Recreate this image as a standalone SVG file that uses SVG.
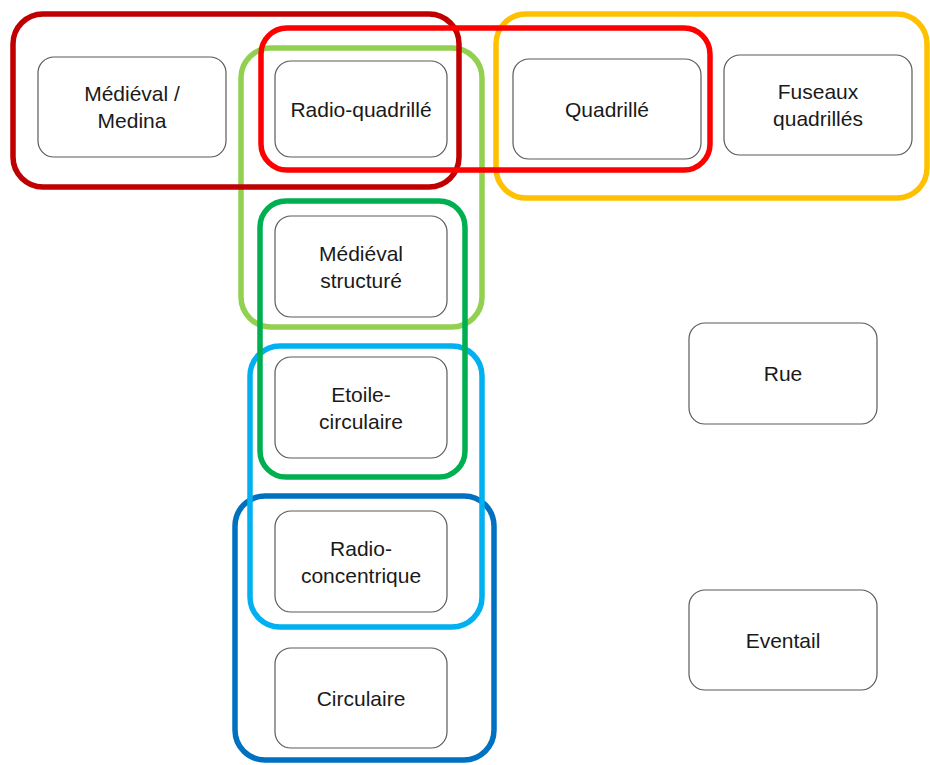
<svg xmlns="http://www.w3.org/2000/svg" width="930" height="765" viewBox="0 0 930 765">
<style>
.node rect{fill:#fff;stroke:#5a5a5a;stroke-width:1.2}
.node text{font-family:"Liberation Sans",Arial,sans-serif;font-size:21px;fill:#1a1a1a;text-anchor:middle}
.grp{fill:none;stroke-width:5.5}
</style>
<rect width="930" height="765" fill="#fff"/>
<g id="nodes">
<g id="n-medieval-medina" class="node"><rect x="38" y="57" width="188" height="100" rx="16"/><text x="132" y="101">Médiéval /</text><text x="132" y="128">Medina</text></g>
<g id="n-radio-quadrille" class="node"><rect x="275" y="61" width="172" height="96" rx="16"/><text x="361" y="116.5">Radio-quadrillé</text></g>
<g id="n-quadrille" class="node"><rect x="513" y="59" width="188" height="100" rx="16"/><text x="607" y="116.5">Quadrillé</text></g>
<g id="n-fuseaux" class="node"><rect x="724" y="55" width="188" height="100" rx="16"/><text x="818" y="99">Fuseaux</text><text x="818" y="126">quadrillés</text></g>
<g id="n-medieval-structure" class="node"><rect x="275" y="216" width="172" height="101" rx="16"/><text x="361" y="261">Médiéval</text><text x="361" y="288">structuré</text></g>
<g id="n-etoile" class="node"><rect x="275" y="357" width="172" height="101" rx="16"/><text x="361" y="402">Etoile-</text><text x="361" y="429">circulaire</text></g>
<g id="n-radio-concentrique" class="node"><rect x="275" y="511" width="172" height="101" rx="16"/><text x="361" y="556">Radio-</text><text x="361" y="583">concentrique</text></g>
<g id="n-circulaire" class="node"><rect x="275" y="648" width="172" height="100" rx="16"/><text x="361" y="705.5">Circulaire</text></g>
<g id="n-rue" class="node"><rect x="689" y="323" width="188" height="101" rx="16"/><text x="783" y="381">Rue</text></g>
<g id="n-eventail" class="node"><rect x="689" y="590" width="188" height="100" rx="16"/><text x="783" y="647.5">Eventail</text></g>
</g>
<g id="groups">
<rect class="grp" x="235" y="496" width="259" height="264" rx="30" stroke="#0070C0"/>
<rect class="grp" x="250" y="346" width="232" height="281" rx="30" stroke="#00B0F0"/>
<rect class="grp" x="241" y="48" width="241" height="279" rx="30" stroke="#92D050"/>
<rect class="grp" x="260" y="201" width="205" height="276" rx="26" stroke="#00B050"/>
<rect class="grp" x="496" y="14" width="431" height="184" rx="30" stroke="#FFC000"/>
<rect class="grp" x="13" y="14" width="446" height="173" rx="30" stroke="#C00000"/>
<rect class="grp" x="261" y="28" width="449" height="142" rx="26" stroke="#FF0000"/>
</g>
</svg>
